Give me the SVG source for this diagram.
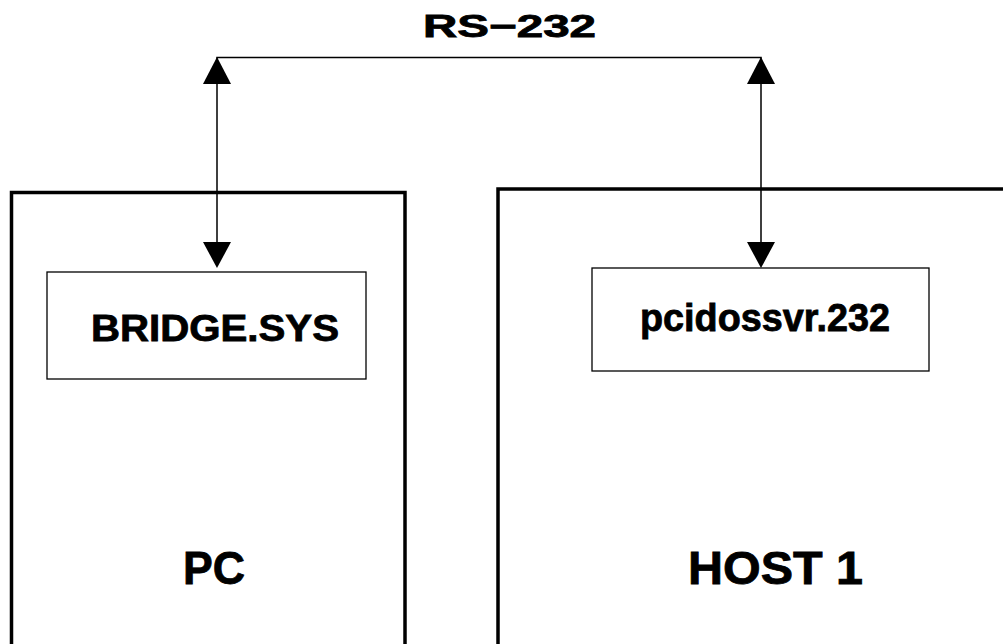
<svg xmlns="http://www.w3.org/2000/svg" width="1003" height="644" viewBox="0 0 1003 644">
<style>
.outer{fill:none;stroke:#000;stroke-width:3.5}
.inner{fill:#fff;stroke:#000;stroke-width:1.3}
.conn{fill:none;stroke:#000;stroke-width:1.5}
.head{fill:#000;stroke:none}
text{font-family:"Liberation Sans",Arial,sans-serif;font-weight:bold;fill:#000;stroke:#000;stroke-width:0.8}
</style>
<rect x="0" y="0" width="1003" height="644" fill="#fff"/>
<g id="pc">
<rect class="outer" x="11.5" y="192.5" width="393.5" height="470"/>
<text x="183" y="584" font-size="46" textLength="62" lengthAdjust="spacingAndGlyphs">PC</text>
</g>
<g id="host1">
<rect class="outer" x="498" y="189" width="540" height="470"/>
<text x="688" y="584" font-size="46" textLength="175" lengthAdjust="spacingAndGlyphs">HOST 1</text>
</g>
<g id="bridge">
<rect class="inner" x="47" y="272" width="319" height="107"/>
<text x="91" y="341" font-size="36" textLength="248" lengthAdjust="spacingAndGlyphs">BRIDGE.SYS</text>
</g>
<g id="pcidossvr">
<rect class="inner" x="592" y="268" width="337" height="103"/>
<text x="640" y="331" font-size="38" textLength="250" lengthAdjust="spacingAndGlyphs">pcidossvr.232</text>
</g>
<g id="connectors">
<polyline class="conn" points="217,242 217,57.5 761,57.5 761,242"/>
<polygon class="head" points="217,57 203,84 231,84"/>
<polygon class="head" points="761,57 747,84 775,84"/>
<polygon class="head" points="217,268 203,242 231,242"/>
<polygon class="head" points="761,268 747,242 775,242"/>
<text x="423" y="37" font-size="31" textLength="173" lengthAdjust="spacingAndGlyphs">RS−232</text>
</g>
</svg>
